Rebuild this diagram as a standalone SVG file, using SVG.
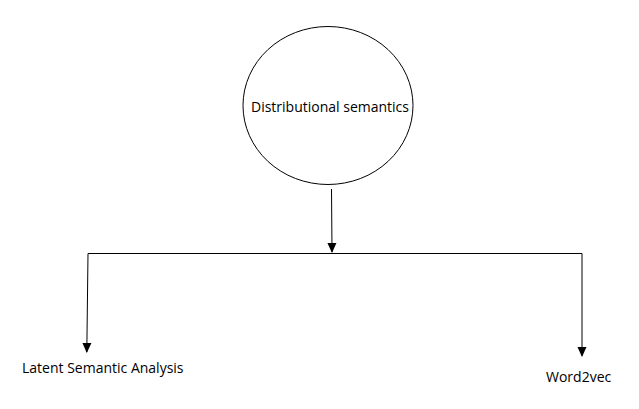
<svg xmlns="http://www.w3.org/2000/svg" width="639" height="409" viewBox="0 0 639 409">
<style>
text{font-family:"Open Sans","Noto Sans",sans-serif;font-size:14px;fill:#000}
.c{fill:none;stroke:#000;stroke-width:1}
</style>
<defs>
<marker id="a" markerWidth="10" markerHeight="10" refX="9" refY="5" orient="auto" markerUnits="userSpaceOnUse">
<path d="M0,0.5 L10,5 L0,9.5 Z" fill="#000"/>
</marker>
</defs>
<rect width="639" height="409" fill="#fff"/>
<g id="node-root">
<ellipse cx="328" cy="105.5" rx="85" ry="79" fill="#fff" stroke="#000" stroke-width="1"/>
<text x="330" y="112" text-anchor="middle">Distributional semantics</text>
</g>
<g id="node-lsa">
<text x="22" y="373">Latent Semantic Analysis</text>
</g>
<g id="node-w2v">
<text x="546" y="382">Word2vec</text>
</g>
<g id="connectors">
<path class="c" d="M331.5,189 L332,252" marker-end="url(#a)"/>
<path class="c" d="M88,253.5 L582,253.5"/>
<path class="c" d="M88,253.5 L86.8,352" marker-end="url(#a)"/>
<path class="c" d="M582,253.5 L582,356" marker-end="url(#a)"/>
</g>
</svg>
